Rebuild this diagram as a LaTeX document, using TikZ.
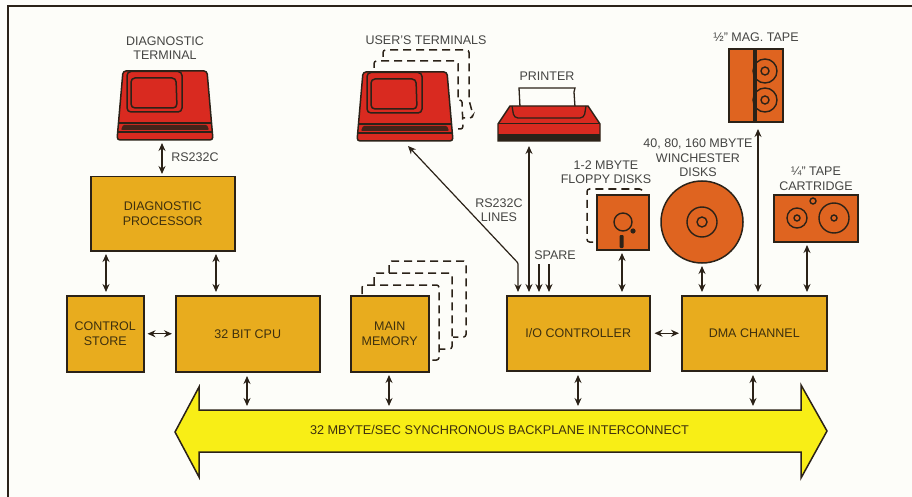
\documentclass[tikz,border=0pt]{standalone}
\usepackage{fontspec}
\setmainfont{Liberation Sans}
\usetikzlibrary{arrows.meta}
\definecolor{paper}{HTML}{FDFDF9}
\definecolor{gold}{HTML}{E8AC1E}
\definecolor{rust}{HTML}{DF6420}
\definecolor{termred}{HTML}{D92A20}
\definecolor{busyellow}{HTML}{F8EE16}
\definecolor{ink}{HTML}{2B2218}
\definecolor{labelgrey}{HTML}{454543}
\definecolor{boxtext}{HTML}{3E300E}
\tikzset{
  x=1pt,y=-1pt,
  unit/.style={draw=ink,line width=1.5pt,fill=gold,text=boxtext,inner sep=0pt,font=\fontsize{12.5}{14.5}\selectfont,align=center,anchor=north west},
  lab/.style={text=labelgrey,inner sep=0pt,font=\fontsize{12.5}{14.5}\selectfont,align=center},
  busline/.style={draw=ink,line width=1.2pt,{Stealth[length=8pt,width=7pt]}-{Stealth[length=8pt,width=7pt]}},
  oneway/.style={draw=ink,line width=1.2pt,-{Stealth[length=8pt,width=7pt]}},
  dev/.style={draw=ink,line width=1.5pt,fill=rust},
  ring/.style={draw=ink,line width=1.4pt},
  dashline/.style={draw=ink,line width=1.5pt,dash pattern=on 8pt off 5pt,rounded corners=2.5pt},
  tight/.style={inner sep=0pt,outer sep=0pt}
}
\newcommand{\myterminal}[2]{%
  \begin{scope}[shift={(#1,#2)}]
    \draw[ink,line width=1.5pt,fill=termred,rounded corners=3pt] (123,71)--(207,71)--(213,140)--(117,140)--cycle;
    \draw[ink,line width=1.5pt,rounded corners=4pt] (127,71.5)--(182,71.5)--(182,112)--(127,112)--cycle;
    \draw[ink,line width=1.5pt,rounded corners=4pt] (131,78)--(176,78)--(177,108)--(131,108)--cycle;
    \draw[ink,line width=1.4pt] (118,123)--(212,123);
    \fill[ink!85!termred,rounded corners=1pt] (123,125)--(207,125)--(209,130)--(121,130)--cycle;
    \draw[ink,line width=1.2pt] (117.5,132)--(212.5,132);
  \end{scope}}
\begin{document}
\begin{tikzpicture}
\useasboundingbox (0,0) rectangle (912,497);
\fill[paper] (0,0) rectangle (912,497);
% frame
\coordinate (fb) at (8,497); \coordinate (fc) at (8,6); \coordinate (fr) at (912,6);
\draw[ink,line width=1.5pt] (fb)--(fc)--(fr);
% dashed stacks
\draw[dashline] (374,68)--(374,61)--(458,61)--(458,100)--(462,100)--(463,129)--(454,129);
\draw[dashline] (383,57)--(383,50)--(469,50)--(469,100)--(473,115)--(472,118)--(463,118);
\draw[dashline] (362,294)--(362,285)--(439,285)--(439,360)--(430,360);
\draw[dashline] (374,285)--(374,273)--(452,273)--(452,349)--(440,349);
\draw[dashline] (389,273)--(389,261)--(466,261)--(466,337)--(453,337);
\draw[dashline] (593,242)--(587,242)--(587,189)--(642,189)--(643,194);
% terminals
\myterminal{0}{0}
\myterminal{240}{1}
% printer
\draw[ink,line width=1.3pt,fill=paper] (520,107)--(519,88)--(575,88)--(574,92)--(575,107);
\draw[ink,line width=1.4pt,fill=termred] (510,106)--(588,106)--(600,124)--(600,141)--(498,141)--(498,124)--cycle;
\fill[ink] (498,134) rectangle (600,141);
\draw[ink,line width=1.3pt,rounded corners=4pt] (512,106)--(514,118)--(584,118)--(586,106);
\draw[ink,line width=1.3pt] (498,123.5)--(600,123.5);
% mag tape
\node[dev,tight,minimum width=54pt,minimum height=73pt,anchor=north west] (mag) at (729,49) {};
\fill[ink] (753,49) rectangle (757,122);
\draw[ring] (765,71) circle[radius=12] (765,71) circle[radius=4];
\draw[ring] (765,100) circle[radius=12] (765,100) circle[radius=4];
% floppy
\node[dev,tight,minimum width=52pt,minimum height=55pt,anchor=north west] (floppy) at (597,195) {};
\draw[ring] (623,222) circle[radius=9];
\fill[ink] (633,231) circle[radius=2.6];
\fill[ink,rounded corners=1pt] (619.5,235) rectangle (623.5,248);
% winchester
\node[dev,tight,circle,minimum size=82pt] (winch) at (702,222) {};
\draw[ring] (702,222) circle[radius=15] (702,222) circle[radius=5];
% tape cartridge
\node[dev,tight,minimum width=84pt,minimum height=47pt,anchor=north west] (cart) at (774,195) {};
\draw[ring] (797,218) circle[radius=10] (797,218) circle[radius=3];
\draw[ring] (834,218) circle[radius=15] (834,218) circle[radius=3];
\draw[ring] (813,201) circle[radius=3];
% processing units
\node[unit,minimum width=144pt,minimum height=74pt] (diag) at (90,176) {DIAGNOSTIC\\PROCESSOR};
\node[unit,minimum width=77pt,minimum height=76pt] (store) at (66,295) {CONTROL\\STORE};
\node[unit,minimum width=144pt,minimum height=76pt] (cpu) at (175,295) {32 BIT CPU};
\node[unit,minimum width=78pt,minimum height=76pt] (mem) at (350,295) {MAIN\\MEMORY};
\node[unit,minimum width=143pt,minimum height=75pt] (io) at (506,295) {I/O CONTROLLER};
\node[unit,minimum width=145pt,minimum height=75pt] (dma) at (681,295) {DMA CHANNEL};
% bus
\draw[ink,line width=1.5pt,fill=busyellow] (175,432)--(199,387)--(199,410)--(801,410)--(801,385)--(827,431)--(801,478)--(801,452)--(199,452)--(199,477)--cycle;
\node[lab,text=boxtext,font=\fontsize{12.7}{14.5}\selectfont] (bus) at (499.5,430) {32 MBYTE/SEC SYNCHRONOUS BACKPLANE INTERCONNECT};
% labels
\node[lab] (t1) at (165,48) {DIAGNOSTIC\\TERMINAL};
\node[lab] (t2) at (426,40) {USER'S TERMINALS};
\node[lab] (t3) at (547,76) {PRINTER};
\node[lab] (t4) at (756,37) {½" MAG. TAPE};
\node[lab] (t5) at (606,172) {1-2 MBYTE\\FLOPPY DISKS};
\node[lab] (t6) at (698,158) {40, 80, 160 MBYTE\\WINCHESTER\\DISKS};
\node[lab] (t7) at (816,179) {¼" TAPE\\CARTRIDGE};
\node[lab] (t8) at (499,210) {RS232C\\LINES};
\node[lab] (t9) at (555,255) {SPARE};
\node[lab] (t10) at (195,157) {RS232C};
% connector anchors
\coordinate (dt) at (162,143); \coordinate (dd) at (162,174);
\coordinate (da) at (106,254); \coordinate (sa) at (106,292);
\coordinate (db) at (216,254); \coordinate (cb) at (216,292);
\coordinate (c1) at (247,376); \coordinate (b1) at (247,406);
\coordinate (m1) at (389,375); \coordinate (b2) at (389,406);
\coordinate (i1) at (578,375); \coordinate (b3) at (578,406);
\coordinate (d1) at (753,375); \coordinate (b4) at (753,406);
\coordinate (ut) at (408,146); \coordinate (ub) at (518,263); \coordinate (ui) at (518,292);
\coordinate (pt1) at (529,146); \coordinate (pi) at (529,292);
\coordinate (s1) at (539,264); \coordinate (s1i) at (539,292);
\coordinate (s2) at (549,264); \coordinate (s2i) at (549,292);
\coordinate (fl) at (622,253); \coordinate (fi) at (622,292);
\coordinate (w1) at (702,266); \coordinate (w2) at (702,292);
\coordinate (mt) at (758,129); \coordinate (mb) at (758,292);
\coordinate (ct) at (807,245); \coordinate (cd) at (807,292);
\draw[busline] (dt)--(dd);
\draw[busline] (da)--(sa);
\draw[busline] (db)--(cb);
\draw[busline] ([xshift=3pt]store.east)--([xshift=-3pt]cpu.west);
\draw[busline] ([xshift=4pt]io.east)--([xshift=-2pt]dma.west);
\draw[busline] (c1)--(b1);
\draw[busline] (m1)--(b2);
\draw[busline] (i1)--(b3);
\draw[busline] (d1)--(b4);
\draw[busline,rounded corners=1pt] (ut)--(ub)--(ui);
\draw[busline] (pt1)--(pi);
\draw[oneway] (s1)--(s1i);
\draw[oneway] (s2)--(s2i);
\draw[busline] (fl)--(fi);
\draw[busline] (w1)--(w2);
\draw[busline] (mt)--(mb);
\draw[busline] (ct)--(cd);
\end{tikzpicture}
\end{document}
